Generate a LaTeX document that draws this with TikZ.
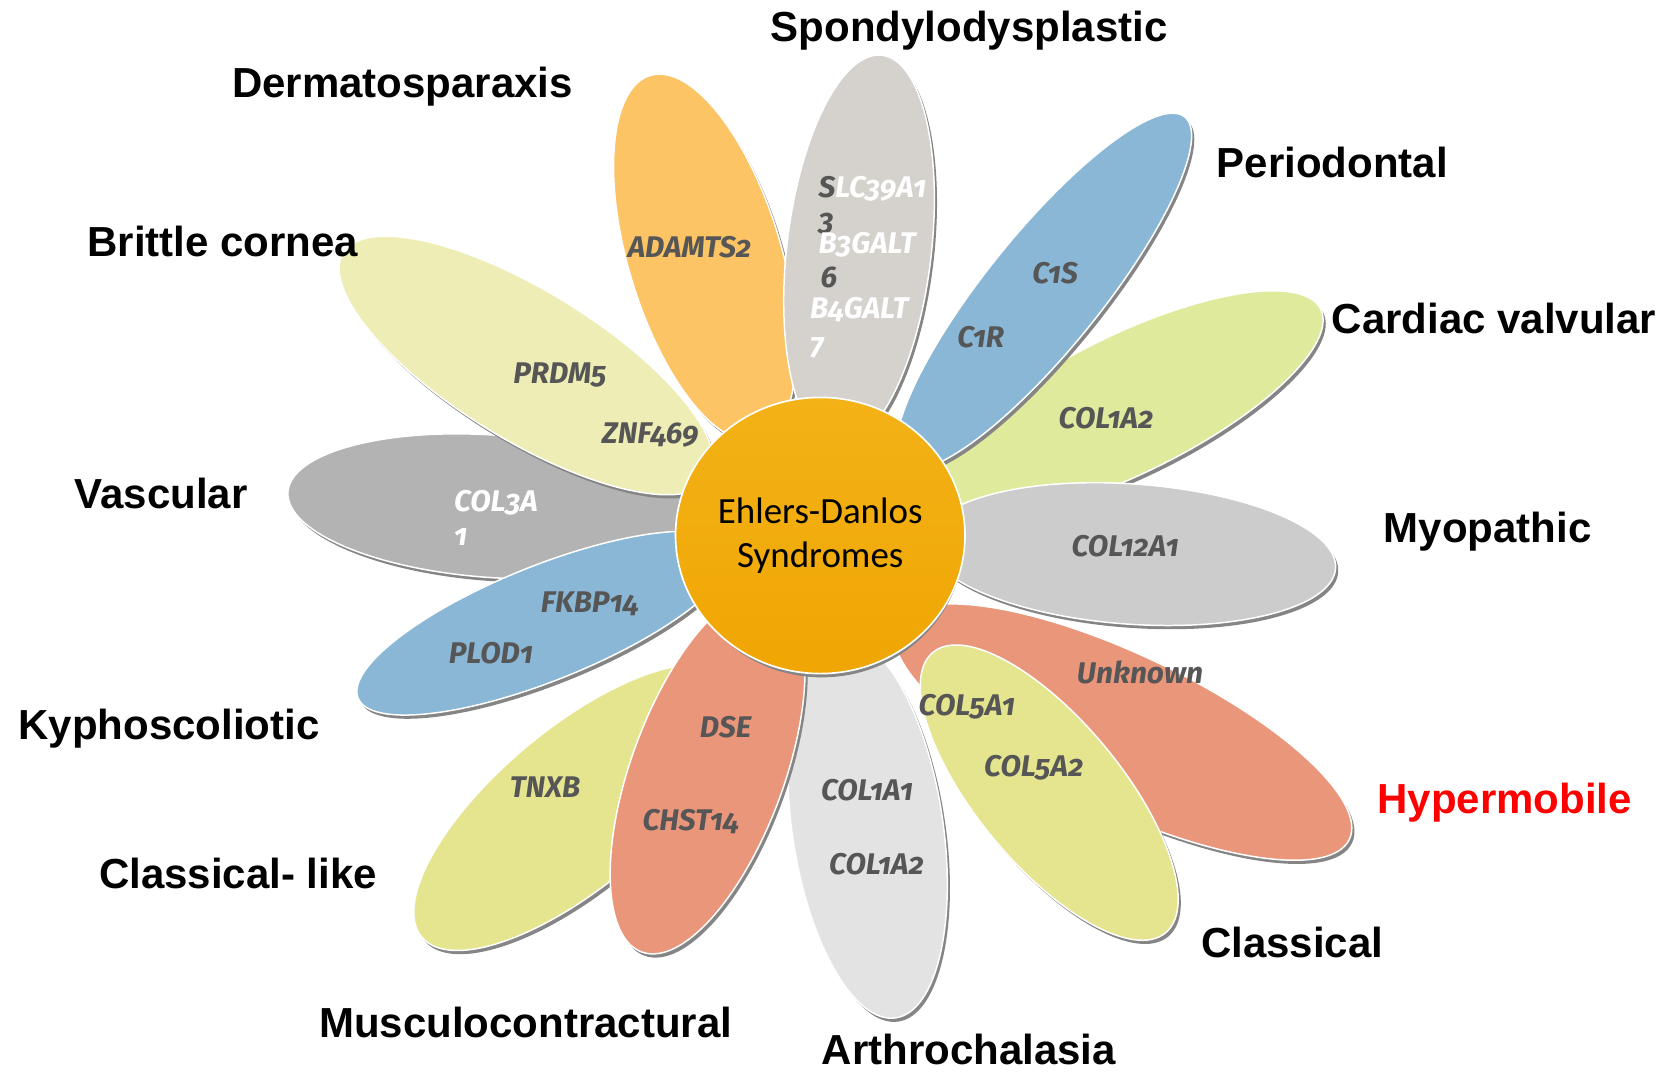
\documentclass[tikz,border=0pt]{standalone}
\usepackage{fontspec}
\setmainfont{Liberation Sans}
\newfontfamily\genefont[Numbers=OldStyle]{Fira Sans}
\newfontfamily\calfont{Carlito}
\usetikzlibrary{shapes.geometric}
\definecolor{cSpon}{HTML}{D5D1CC}
\definecolor{cDerm}{HTML}{FDC466}
\definecolor{cBlue}{HTML}{89B7D5}
\definecolor{cCard}{HTML}{DFEA9D}
\definecolor{cMyop}{HTML}{CCCCCC}
\definecolor{cSalm}{HTML}{EA967B}
\definecolor{cYell}{HTML}{E6E58F}
\definecolor{cArth}{HTML}{E3E3E3}
\definecolor{cVasc}{HTML}{B3B3B3}
\definecolor{cBrit}{HTML}{EDEDB5}
\definecolor{cCoreTop}{HTML}{F3B217}
\definecolor{cCoreBot}{HTML}{F0A603}
\definecolor{cShad}{HTML}{858585}
\definecolor{cGene}{HTML}{565656}
\tikzset{
  petalshadow/.style={fill=cShad},
  petalbody/.style={draw=white, line width=0.8pt},
  lab/.style={font=\fontsize{22.5}{27}\selectfont\bfseries, anchor=base west, inner sep=0pt},
  gene/.style={font=\genefont\fontsize{16}{19}\selectfont\bfseries\itshape, text=cGene, anchor=base, inner sep=0pt},
  genew/.style={gene, anchor=base west},
}
% inner x, inner y, outer x, outer y, half width, colour
\newcommand\petal[6]{%
  \pgfmathsetmacro\pcx{(#1+#3)/2}%
  \pgfmathsetmacro\pcy{(#2+#4)/2}%
  \pgfmathsetmacro\pang{atan2(#2-#4,#3-#1)}%
  \pgfmathsetmacro\prad{veclen(#3-#1,#4-#2)/2}%
  \begin{scope}[shift={(\pcx+2.5,\pcy+3.5)}, rotate=\pang]
    \fill[petalshadow] (0,0) ellipse [x radius=\prad, y radius=#5];
  \end{scope}
  \begin{scope}[shift={(\pcx,\pcy)}, rotate=\pang]
    \filldraw[petalbody, fill=#6] (0,0) ellipse [x radius=\prad, y radius=#5];
  \end{scope}%
}
\begin{document}
\begin{tikzpicture}[x=0.02cm, y=-0.02cm]
\useasboundingbox (0,0) rectangle (1568,1010);
% lowest petals
\petal{655}{490}{271}{463}{67}{cVasc}
\petal{880}{470}{1243}{291}{65}{cCard}
\petal{844}{588}{1270}{790}{73}{cSalm}
\petal{790}{600}{843}{958}{71}{cArth}
\petal{688}{638}{397}{882}{74}{cYell}
% upper petals
\petal{668}{450}{323}{238}{70}{cBrit}
\petal{715}{414}{612}{71}{72}{cDerm}
\petal{787}{419}{830}{52}{68}{cSpon}
\petal{850}{438}{1115}{110}{54}{cBlue}
\petal{873}{508}{1257}{535}{66}{cMyop}
\petal{878}{614}{1097}{878}{68}{cYell}
\petal{728}{557}{604}{896}{72}{cSalm}
\petal{688}{516}{337}{657}{54}{cBlue}
% centre
\fill[cShad] (773.5,507.5) ellipse [x radius=134, y radius=130];
\node[ellipse, draw=white, line width=0.9pt, top color=cCoreTop, bottom color=cCoreBot,
      minimum width=5.36cm, minimum height=5.2cm, inner sep=0pt, align=center,
      font=\calfont\fontsize{19.8}{23.2}\selectfont] (core) at (772,504) {Ehlers-Danlos\\Syndromes};
% gene labels
\node[gene] (gAdam) at (649,242) {ADAMTS2};
\node[genew] (gSlcA) at (770,186) {S\textcolor{white}{LC39A1}};
\node[genew] (gSlcB) at (770,217) {3};
\node[genew, text=white] (gB3a) at (770,239) {B3GALT};
\node[genew] (gB3b) at (772,271) {6};
\node[genew, text=white] (gB4a) at (762,300) {B4GALT};
\node[genew, text=white] (gB4b) at (762,334) {7};
\node[gene] (gC1S) at (993,267) {C1S};
\node[gene] (gC1R) at (923,327) {C1R};
\node[gene] (gPrdm) at (527,361) {PRDM5};
\node[gene] (gZnf) at (612,417) {ZNF469};
\node[gene] (gCol1a2c) at (1041,403) {COL1A2};
\node[genew, text=white] (gCol3a) at (427,481) {COL3A};
\node[genew, text=white] (gCol3b) at (427,513) {1};
\node[gene] (gCol12) at (1059,524) {COL12A1};
\node[gene] (gFkbp) at (555,576) {FKBP14};
\node[gene] (gPlod) at (462,624) {PLOD1};
\node[gene] (gUnkn) at (1073,643) {Unknown};
\node[gene] (gCol5a1) at (910,673) {COL5A1};
\node[gene] (gCol5a2) at (973,731) {COL5A2};
\node[gene] (gDse) at (683,694) {DSE};
\node[gene] (gTnxb) at (513,751) {TNXB};
\node[gene] (gChst) at (650,782) {CHST14};
\node[gene] (gCol1a1) at (816,753) {COL1A1};
\node[gene] (gCol1a2a) at (825,823) {COL1A2};
% type labels
\node[lab] (lSpon) at (725,39) {Spondylodysplastic};
\node[lab] (lDerm) at (218,92) {Dermatosparaxis};
\node[lab] (lPeri) at (1145,167) {Periodontal};
\node[lab] (lBrit) at (82,241) {Brittle cornea};
\node[lab] (lCard) at (1253,314) {Cardiac valvular};
\node[lab] (lVasc) at (70,479) {Vascular};
\node[lab] (lMyop) at (1302,511) {Myopathic};
\node[lab] (lKyph) at (17,696) {Kyphoscoliotic};
\node[lab, text=red] (lHype) at (1296,766) {Hypermobile};
\node[lab] (lClLi) at (93,836) {Classical- like};
\node[lab] (lClas) at (1130,901) {Classical};
\node[lab] (lMusc) at (300,976) {Musculocontractural};
\node[lab] (lArth) at (773,1002) {Arthrochalasia};
\end{tikzpicture}
\end{document}
